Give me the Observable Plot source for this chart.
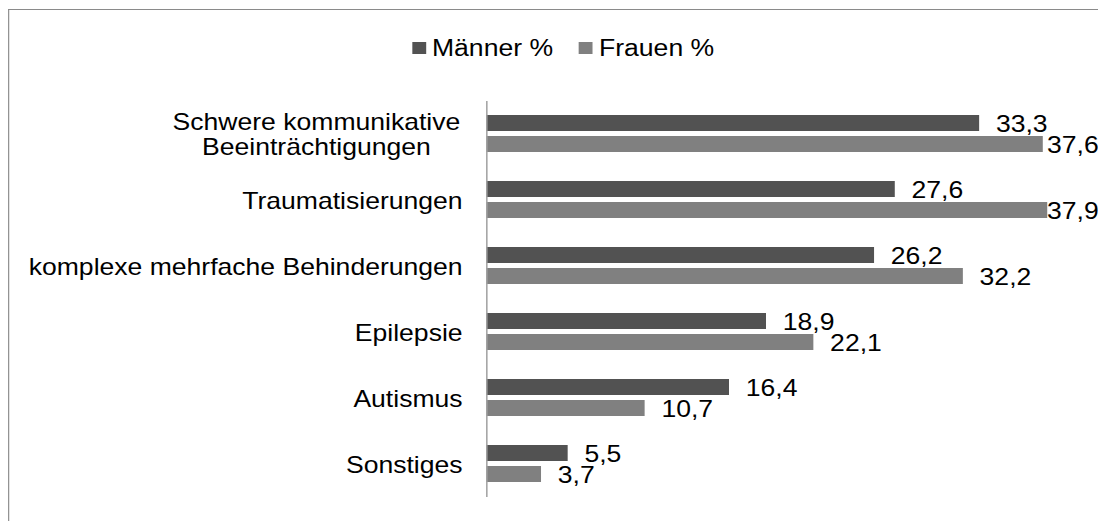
<!DOCTYPE html>
<html><head><meta charset="utf-8">
<script src="https://cdn.jsdelivr.net/npm/d3@7"></script>
<script src="https://cdn.jsdelivr.net/npm/@observablehq/plot@0.6"></script>
<style>
html,body{margin:0;padding:0;background:#fff;overflow:hidden;width:1098px;height:521px;}
#wrap{position:absolute;left:0;top:0;width:951px;height:521px;transform:scaleX(1.155);transform-origin:0 0;}
#border{position:absolute;left:6.6px;top:9px;width:1000px;height:1000px;border-top:1px solid #8a8a8a;border-left:1.6px solid #8a8a8a;}
#legend{position:absolute;left:356.7px;top:35.5px;}
#chart{position:absolute;left:0;top:70px;}
.lg-swatches{font-family:"Liberation Sans",Arial,sans-serif;font-size:23px;margin:0;color:#000;}
.lg-swatches-wrap{min-height:0;height:25px;display:flex;align-items:center;flex-wrap:nowrap;}
.lg-swatch{margin-right:22.5px;}
.lg-swatch > svg{margin-right:5.3px;}
</style></head>
<body><div id="wrap"><div id="border"></div><div id="legend"></div><div id="chart"></div></div>
<script>
const categories = ["Schwere kommunikative\nBeeinträchtigungen", "Traumatisierungen", "komplexe mehrfache Behinderungen", "Epilepsie", "Autismus", "Sonstiges"];
const series = ["Männer %", "Frauen %"];
const maenner = [33.3, 27.6, 26.2, 18.9, 16.4, 5.5];
const frauen = [37.6, 37.9, 32.2, 22.1, 10.7, 3.7];
const colors = ["#525252", "#808080"];

const data = categories.flatMap((c, i) => [
  {cat: c, series: series[0], value: maenner[i]},
  {cat: c, series: series[1], value: frauen[i]}
]);

const fmt = v => v.toFixed(1).replace(".", ",");

const legend = Plot.legend({
  className: "lg",
  legend: "swatches",
  color: {domain: series, range: colors},
  swatchWidth: 12,
  swatchHeight: 12
});
document.getElementById("legend").append(legend);

const chart = Plot.plot({
  width: 951,
  height: 451,
  marginTop: 30,
  marginBottom: 24,
  marginLeft: 421,
  marginRight: 17.4,
  style: {fontFamily: "'Liberation Sans', Arial, sans-serif", fontSize: "23px", color: "#000", background: "transparent", overflow: "visible"},
  x: {domain: [0, 40], axis: null},
  y: {domain: series, axis: null, paddingInner: 0.227, paddingOuter: 0.617},
  fy: {domain: categories, padding: 0, axis: null},
  color: {domain: series, range: colors},
  marks: [
    Plot.barX(data, {fy: "cat", y: "series", x: "value", fill: "series"}),
    Plot.ruleX([0], {stroke: "#a0a0a0", strokeWidth: 1.3}),
    Plot.text(data, {
      fy: "cat", y: "series", x: "value",
      text: d => fmt(d.value),
      textAnchor: "start", dx: 14, dy: 1.5,
      fontSize: 23, fill: "#000",
      render(index, scales, values, dimensions, context, next) {
        const lim = dimensions.width - 14 - 45;
        const X = Array.from(values.x, v => Math.min(v, lim));
        return next(index, scales, {...values, x: X}, dimensions, context);
      }
    }),
    Plot.axisFy({anchor: "left", tickSize: 0, tickPadding: 21, label: null, fontSize: 23, lineHeight: 25 / 23, textAnchor: "end", fill: "#000"})
  ]
});
document.getElementById("chart").append(chart);

// center the lines of multi-line category labels (as in the original)
d3.select(chart).selectAll("text").each(function () {
  const tspans = Array.from(this.querySelectorAll("tspan"));
  if (tspans.length < 2) return;
  const w = tspans.map(t => t.getComputedTextLength());
  const maxW = Math.max(...w);
  tspans.forEach((t, i) => t.setAttribute("x", -(maxW - w[i]) / 2 - 2));
});
</script>
</body></html>
